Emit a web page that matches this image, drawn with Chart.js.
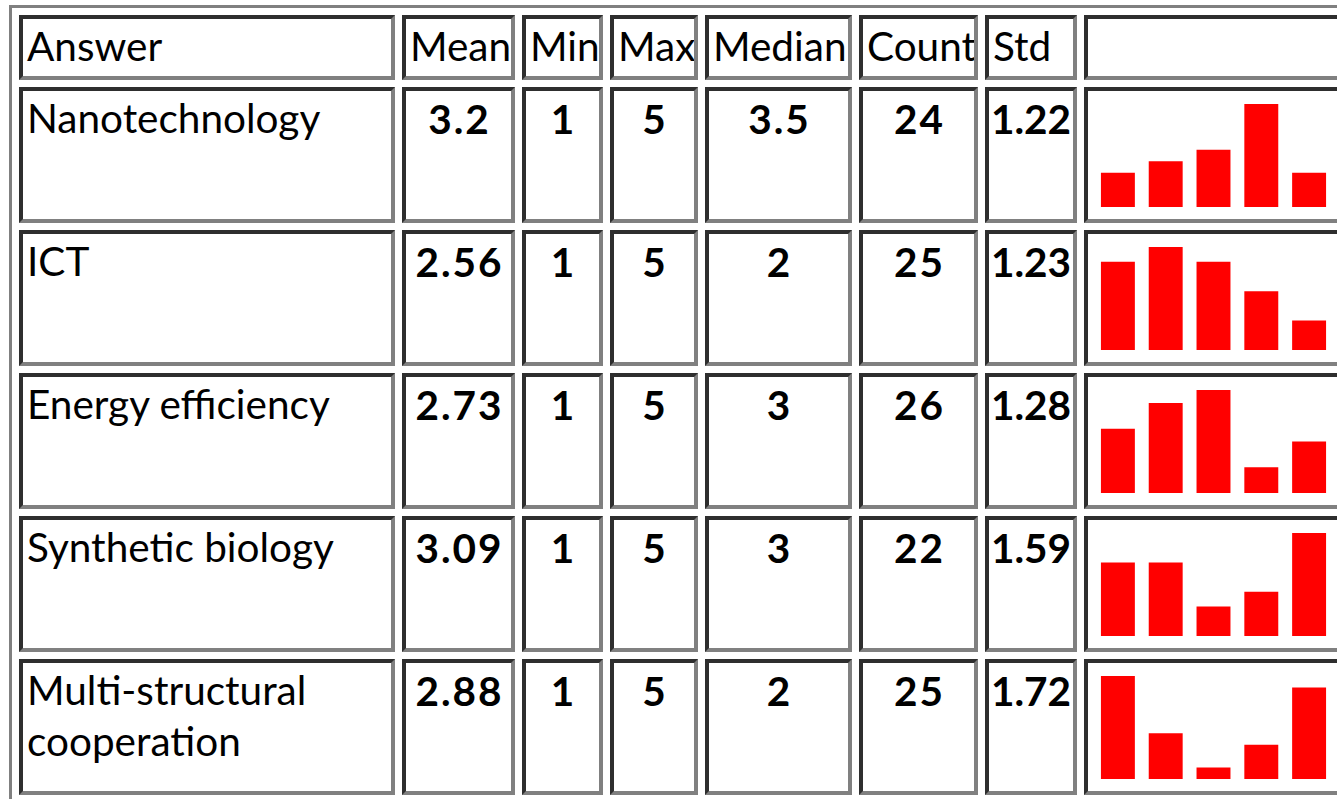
<!DOCTYPE html>
<html>
<head>
<meta charset="utf-8">
<script src="https://cdn.jsdelivr.net/npm/chart.js@4"></script>
<style>
  html, body { margin: 0; padding: 0; background: #fff; overflow: hidden; }
  body { width: 1337px; height: 799px; position: relative; }
  table {
    position: absolute; left: 9px; top: 5px;
    border: 3px solid #808080;
    border-spacing: 7px 7.5px;
    table-layout: fixed;
    width: 1347px;
    font-family: Lato, "Open Sans", sans-serif;
    font-size: 40.5px; line-height: 51px; color: #000;
  }
  td {
    box-sizing: border-box;
    border: 4px solid;
    border-color: #2e2e2e #808080 #808080 #2e2e2e;
    vertical-align: top;
    padding: 1px 4px 0 4px;
    height: 136px;
    overflow: hidden;
  }
  tr.head td { height: 65px; }
  td.num {
    text-align: center; font-weight: bold;
    padding: 2px 0 0 0;
    letter-spacing: 2px; text-indent: 2px;
    white-space: nowrap;
  }
  td.num.std { letter-spacing: 0; text-indent: 0; }
  td.chart { padding: 0; }
  td.chart canvas { display: block; }
</style>
</head>
<body>
<table id="tbl"></table>
<script>
// table values
let headers = ['Answer', 'Mean', 'Min', 'Max', 'Median', 'Count', 'Std', ''];
let answers = ['Nanotechnology', 'ICT', 'Energy efficiency', 'Synthetic biology', 'Multi-structural cooperation'];
let means = [3.2, 2.56, 2.73, 3.09, 2.88];
let mins = [1, 1, 1, 1, 1];
let maxs = [5, 5, 5, 5, 5];
let medians = [3.5, 2, 3, 3, 2];
let counts = [24, 25, 26, 22, 25];
let stds = [1.22, 1.23, 1.28, 1.59, 1.72];

// answer distribution (scores 1..5)
let scores = ['1', '2', '3', '4', '5'];
let nano = [3, 4, 5, 9, 3];
let ict = [6, 7, 6, 4, 2];
let energy = [5, 7, 8, 2, 4];
let synth = [5, 5, 2, 3, 7];
let multi = [9, 4, 1, 3, 8];
let dists = [nano, ict, energy, synth, multi];

let colWidths = [376, 113, 81, 88, 147, 119, 92, 262];

let table = document.getElementById('tbl');
let colgroup = document.createElement('colgroup');
colWidths.forEach(function (w) {
  let col = document.createElement('col');
  col.style.width = w + 'px';
  colgroup.appendChild(col);
});
table.appendChild(colgroup);

let head = table.insertRow();
head.className = 'head';
headers.forEach(function (h) {
  let c = head.insertCell();
  c.textContent = h;
});

for (let r = 0; r < answers.length; r++) {
  let row = table.insertRow();
  let c0 = row.insertCell();
  c0.textContent = answers[r];

  let vals = [means[r], mins[r], maxs[r], medians[r], counts[r], stds[r]];
  vals.forEach(function (v, i) {
    let c = row.insertCell();
    c.className = i == 5 ? 'num std' : 'num';
    c.textContent = v;
  });

  let cc = row.insertCell();
  cc.className = 'chart';
  let canvas = document.createElement('canvas');
  canvas.width = 250;
  canvas.height = 128;
  canvas.style.width = '250px';
  canvas.style.height = '128px';
  cc.appendChild(canvas);

  new Chart(canvas, {
    type: 'bar',
    data: {
      labels: scores,
      datasets: [{
        data: dists[r],
        backgroundColor: '#ff0000',
        borderWidth: 0,
        barPercentage: 0.71,
        categoryPercentage: 1
      }]
    },
    options: {
      responsive: false,
      animation: false,
      layout: { padding: { left: 6, right: 5, top: 13, bottom: 12 } },
      plugins: { legend: { display: false }, tooltip: { enabled: false } },
      scales: {
        x: { display: false },
        y: { display: false, min: 0, max: Math.max(...dists[r]) }
      }
    }
  });
}
</script>
</body>
</html>
